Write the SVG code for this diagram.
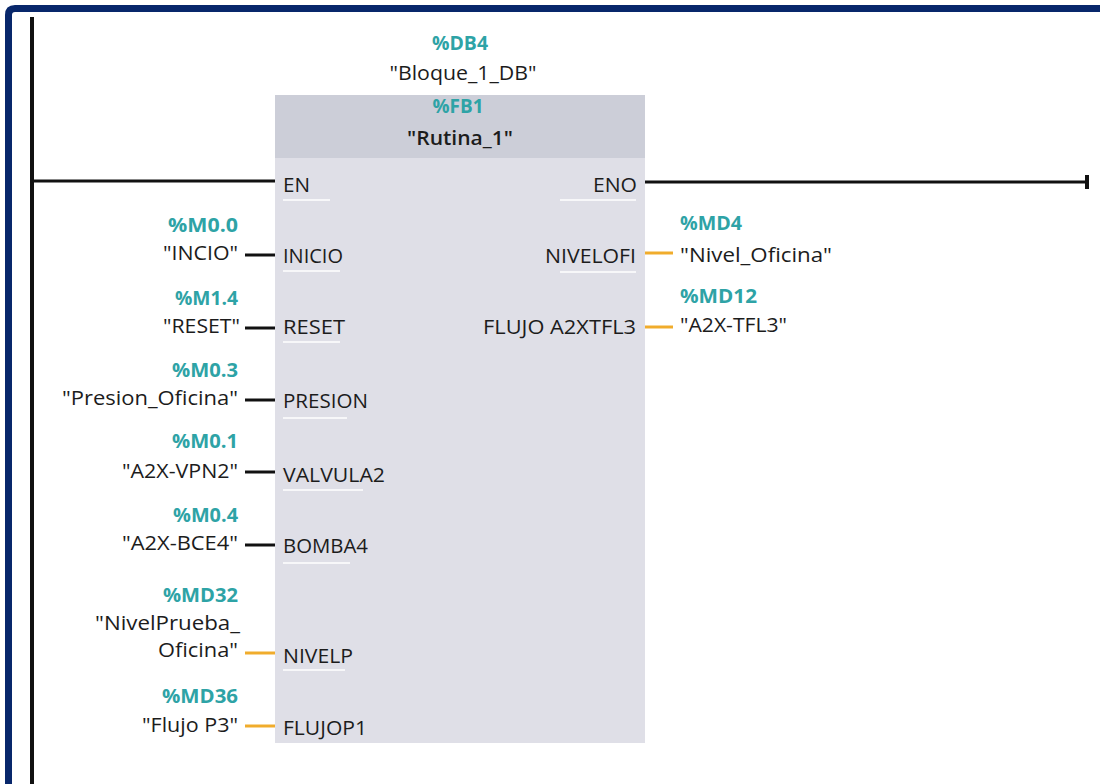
<svg xmlns="http://www.w3.org/2000/svg" width="1100" height="784" viewBox="0 0 1100 784">
<style>
text{font-family:"Open Sans","Noto Sans","Liberation Sans",sans-serif;font-size:20px;fill:#1c1c1c}
.t{fill:#2ea3a6;font-weight:bold}
.b{font-weight:600}
.e{text-anchor:end}
.m{text-anchor:middle}
.w{stroke:#111;stroke-width:3;fill:none}
.o{stroke:#f0ac2c;stroke-width:3;fill:none}
.u{stroke:#ffffff;stroke-width:2;opacity:0.75}
</style>
<rect x="0" y="0" width="1100" height="784" fill="#ffffff"/>
<path d="M8.5 784 V15 Q8.5 8.5 15 8.5 H1100" fill="none" stroke="#08276b" stroke-width="7"/>
<g id="rail"><line x1="32" y1="17" x2="32" y2="784" stroke="#111" stroke-width="4"/></g>
<g id="block">
<rect x="275" y="158" width="370" height="585" fill="#dfdfe7"/>
<rect x="275" y="95" width="370" height="63" fill="#ccced8"/>
<text class="t m" x="460" y="50" textLength="56" lengthAdjust="spacingAndGlyphs">%DB4</text>
<text class="m" x="463" y="80" textLength="147" lengthAdjust="spacingAndGlyphs">"Bloque_1_DB"</text>
<text class="t m" x="458" y="113" textLength="51" lengthAdjust="spacingAndGlyphs">%FB1</text>
<text class="m b" x="460" y="145" textLength="106" lengthAdjust="spacingAndGlyphs">"Rutina_1"</text>
<text x="283" y="192" textLength="27" lengthAdjust="spacingAndGlyphs">EN</text>
<text class="e" x="637" y="192" textLength="44" lengthAdjust="spacingAndGlyphs">ENO</text>
<text x="283" y="263" textLength="60" lengthAdjust="spacingAndGlyphs">INICIO</text>
<text x="283" y="334" textLength="62" lengthAdjust="spacingAndGlyphs">RESET</text>
<text x="283" y="408" textLength="85" lengthAdjust="spacingAndGlyphs">PRESION</text>
<text x="283" y="482" textLength="102" lengthAdjust="spacingAndGlyphs">VALVULA2</text>
<text x="283" y="553" textLength="85" lengthAdjust="spacingAndGlyphs">BOMBA4</text>
<text x="283" y="663" textLength="70" lengthAdjust="spacingAndGlyphs">NIVELP</text>
<text x="283" y="735" textLength="84" lengthAdjust="spacingAndGlyphs">FLUJOP1</text>
<text class="e" x="636" y="263" textLength="91" lengthAdjust="spacingAndGlyphs">NIVELOFI</text>
<text class="e" x="636" y="334" textLength="153" lengthAdjust="spacingAndGlyphs">FLUJO A2XTFL3</text>
<line class="u" x1="283" y1="200" x2="330" y2="200"/>
<line class="u" x1="283" y1="271" x2="340" y2="271"/>
<line class="u" x1="283" y1="342" x2="340" y2="342"/>
<line class="u" x1="283" y1="418" x2="347" y2="418"/>
<line class="u" x1="283" y1="490" x2="363" y2="490"/>
<line class="u" x1="283" y1="563" x2="350" y2="563"/>
<line class="u" x1="283" y1="670" x2="345" y2="670"/>
<line class="u" x1="560" y1="200" x2="636" y2="200"/>
<line class="u" x1="560" y1="272" x2="636" y2="272"/>
</g>
<g id="connectors">
<line class="w" x1="32" y1="181" x2="275" y2="181"/>
<line class="w" x1="645" y1="182" x2="1087" y2="182"/>
<line x1="1087" y1="175" x2="1087" y2="189" stroke="#111" stroke-width="4"/>
<line class="w" x1="245" y1="255" x2="275" y2="255"/>
<line class="w" x1="245" y1="328" x2="275" y2="328"/>
<line class="w" x1="245" y1="400" x2="275" y2="400"/>
<line class="w" x1="245" y1="472" x2="275" y2="472"/>
<line class="w" x1="245" y1="545" x2="275" y2="545"/>
<line class="o" x1="245" y1="653" x2="275" y2="653"/>
<line class="o" x1="245" y1="726" x2="275" y2="726"/>
<line class="o" x1="645" y1="253" x2="673" y2="253"/>
<line class="o" x1="645" y1="327" x2="673" y2="327"/>
</g>
<g id="in-inicio"><text class="t e" x="238" y="232" textLength="70" lengthAdjust="spacingAndGlyphs">%M0.0</text><text class="e" x="238" y="260" textLength="75" lengthAdjust="spacingAndGlyphs">"INCIO"</text></g>
<g id="in-reset"><text class="t e" x="238" y="305" textLength="63" lengthAdjust="spacingAndGlyphs">%M1.4</text><text class="e" x="240" y="333" textLength="77" lengthAdjust="spacingAndGlyphs">"RESET"</text></g>
<g id="in-presion"><text class="t e" x="238" y="377" textLength="66" lengthAdjust="spacingAndGlyphs">%M0.3</text><text class="e" x="238" y="405" textLength="176" lengthAdjust="spacingAndGlyphs">"Presion_Oficina"</text></g>
<g id="in-valvula"><text class="t e" x="238" y="448" textLength="66" lengthAdjust="spacingAndGlyphs">%M0.1</text><text class="e" x="238" y="478" textLength="116" lengthAdjust="spacingAndGlyphs">"A2X-VPN2"</text></g>
<g id="in-bomba"><text class="t e" x="238" y="522" textLength="65" lengthAdjust="spacingAndGlyphs">%M0.4</text><text class="e" x="238" y="550" textLength="116" lengthAdjust="spacingAndGlyphs">"A2X-BCE4"</text></g>
<g id="in-nivelp"><text class="t e" x="238" y="602" textLength="75" lengthAdjust="spacingAndGlyphs">%MD32</text><text class="e" x="240" y="630" textLength="145" lengthAdjust="spacingAndGlyphs">"NivelPrueba_</text><text class="e" x="238" y="657" textLength="80" lengthAdjust="spacingAndGlyphs">Oficina"</text></g>
<g id="in-flujop"><text class="t e" x="238" y="703" textLength="76" lengthAdjust="spacingAndGlyphs">%MD36</text><text class="e" x="238" y="732" textLength="96" lengthAdjust="spacingAndGlyphs">"Flujo P3"</text></g>
<g id="out-nivel"><text class="t" x="680" y="230" textLength="62" lengthAdjust="spacingAndGlyphs">%MD4</text><text x="680" y="262" textLength="152" lengthAdjust="spacingAndGlyphs">"Nivel_Oficina"</text></g>
<g id="out-flujo"><text class="t" x="680" y="303" textLength="77" lengthAdjust="spacingAndGlyphs">%MD12</text><text x="680" y="332" textLength="107" lengthAdjust="spacingAndGlyphs">"A2X-TFL3"</text></g>
</svg>
